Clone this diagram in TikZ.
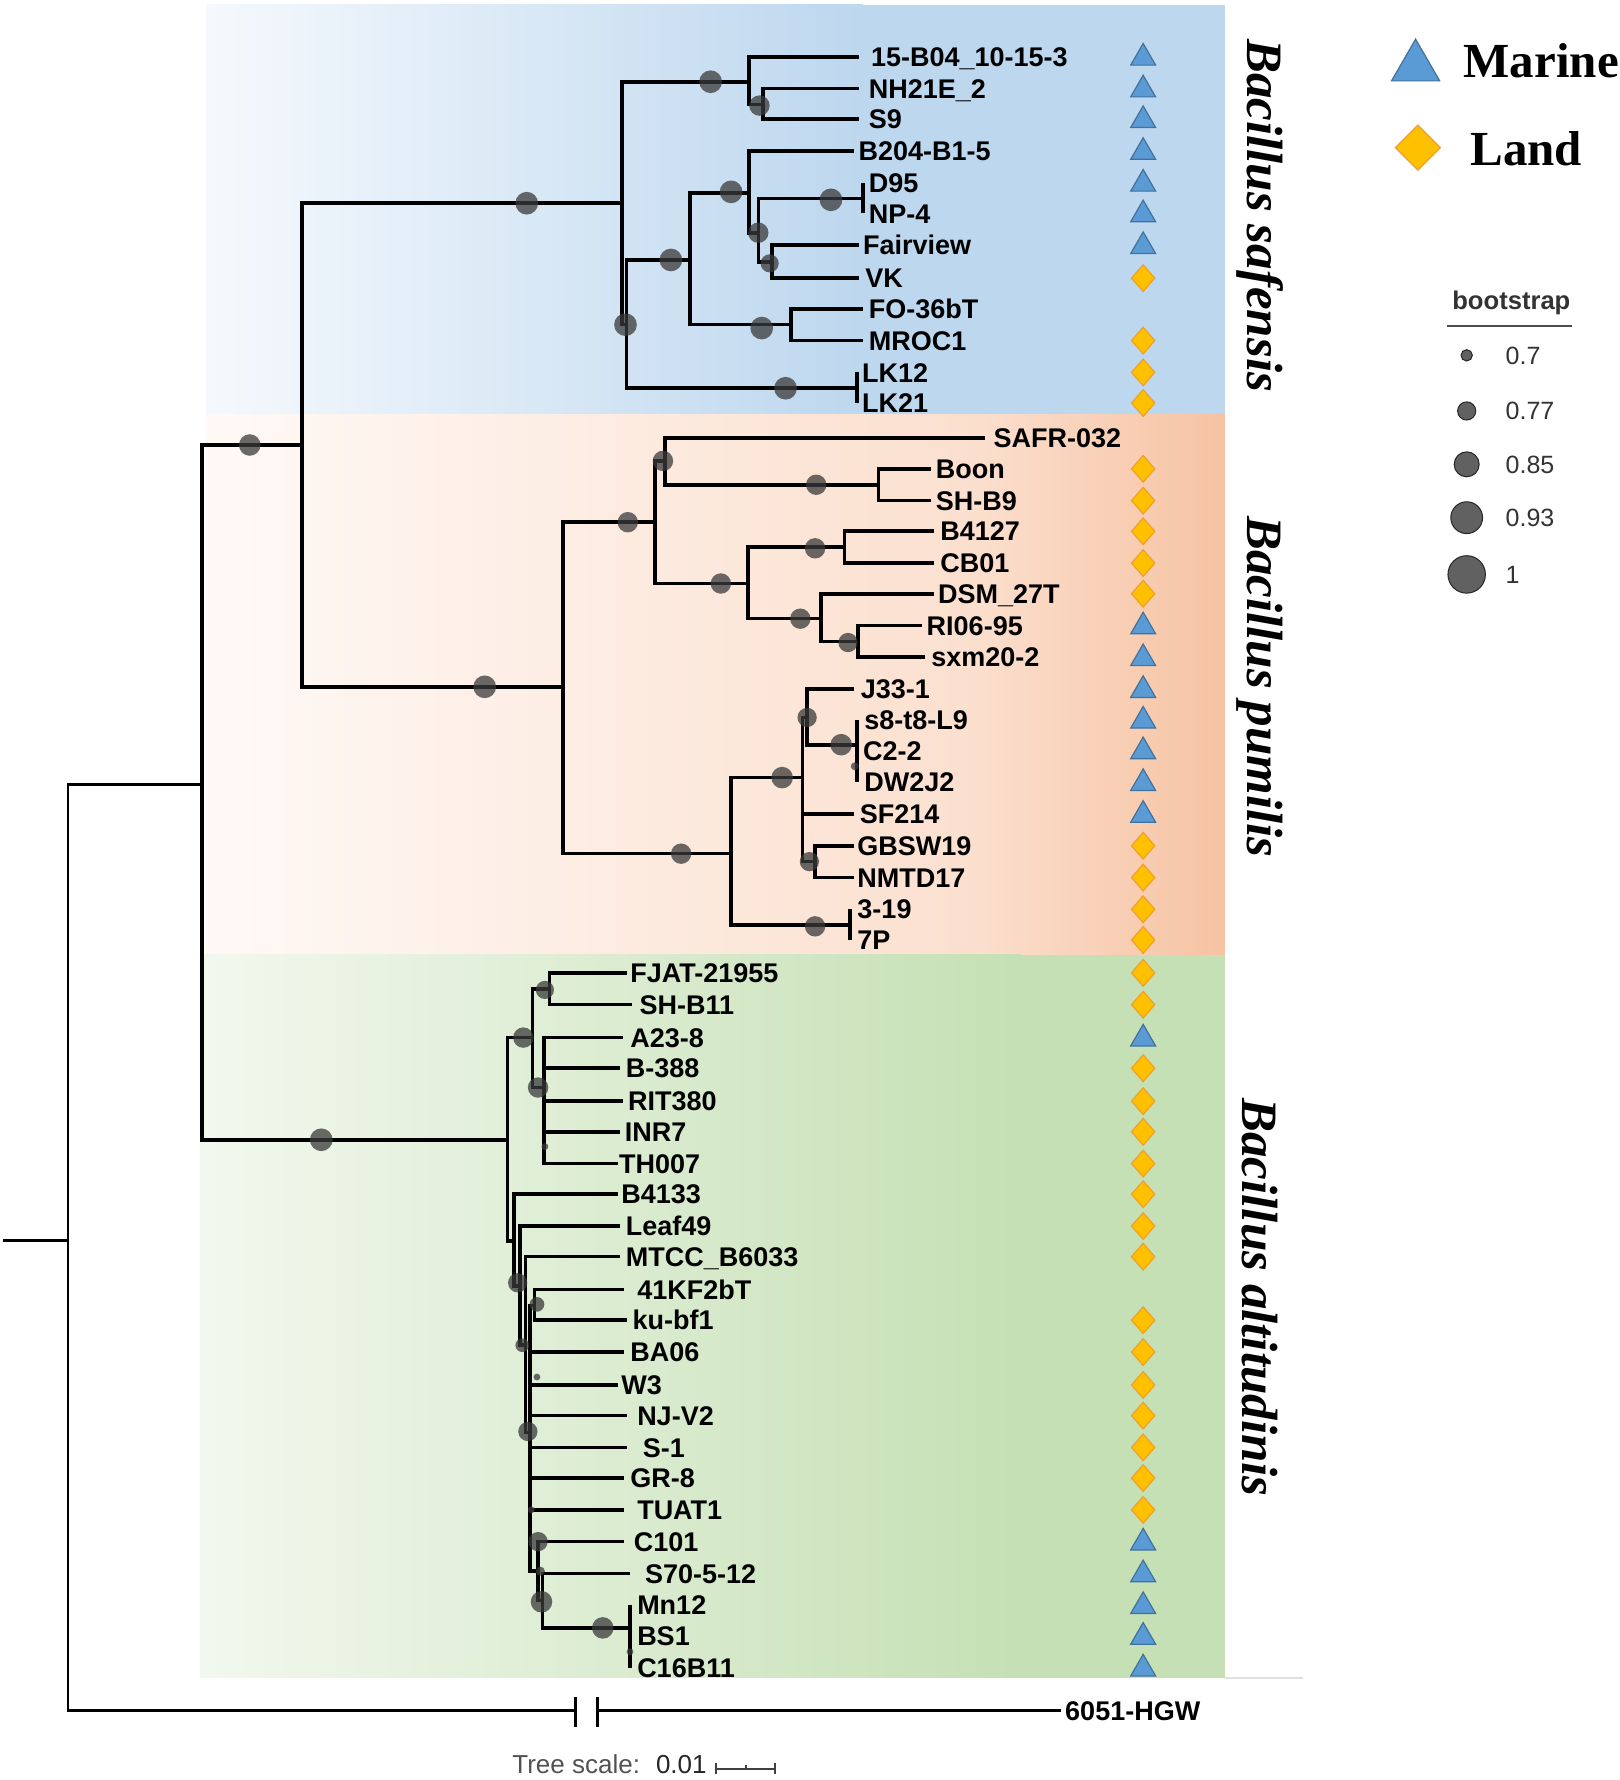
\documentclass[tikz,border=0pt]{standalone}
\usepackage{fontspec}
\setmainfont{Liberation Sans}
\newfontfamily\clfont{Liberation Serif}
\usetikzlibrary{shapes.geometric}
\definecolor{mblue}{HTML}{5B9BD5}
\definecolor{mbluedk}{HTML}{41719C}
\definecolor{lyel}{HTML}{FFC000}
\definecolor{lyeldk}{HTML}{EFA02A}
\definecolor{pblue}{HTML}{BDD7EE}
\definecolor{pbluel}{HTML}{F5F9FD}
\definecolor{porl}{HTML}{FFF9F6}
\definecolor{porm}{HTML}{FBE0CF}
\definecolor{porr}{HTML}{F6C3A3}
\definecolor{pgrl}{HTML}{F2F8EE}
\definecolor{pgrr}{HTML}{C5E0B4}
\definecolor{dotc}{HTML}{3A3A3A}
\newcommand{\tleaf}[6]{%
  \coordinate (#1) at (#3,#4);
  \draw[br] (#2) |- (#1);
  \node[lbl] (#1-t) at (#5,#4) {#6};}
\begin{document}
\begin{tikzpicture}[x=0.5676pt, y=-0.5676pt,
  br/.style={line width=1.8pt},
  thinbr/.style={line width=1.3pt},
  lbl/.style={anchor=west, inner sep=0pt, text height=9.67pt, text depth=0pt, font=\fontsize{13.5}{15}\selectfont\bfseries},
  bs/.style={circle, inner sep=0pt, minimum size={#1*0.5676pt}, fill=dotc, fill opacity=0.75, draw=none},
  legc/.style={circle, inner sep=0pt, minimum size={#1*0.5676pt}, fill=black!62, draw=black!85, line width=0.5pt},
  marine/.style={regular polygon, regular polygon sides=3, inner sep=0pt, minimum size=14.4pt, fill=mblue, draw=mbluedk, line width=0.6pt},
  land/.style={diamond, inner sep=0pt, minimum width=11.9pt, minimum height=13.6pt, fill=lyel, draw=lyeldk, line width=0.6pt},
  clade/.style={inner sep=0pt, rotate=-90, font=\clfont\fontsize{25.5}{28}\selectfont\bfseries\itshape}]
\useasboundingbox (0,0) rectangle (1427,1568);
\fill[white] (0,0) rectangle (1427,1568);
% panels
\shade[left color=pbluel, right color=pblue] (182,4) rectangle (760,365);
\fill[pblue] (759,4) rectangle (1079,365);
\shade[left color=porl, right color=porm] (182,365) rectangle (850,841);
\shade[left color=porm, right color=porr] (849,365) rectangle (1079,841);
\shade[left color=pgrl, right color=pgrr] (176,841) rectangle (900,1478);
\fill[pgrr] (899,841) rectangle (1079,1478);
\draw[black!12, line width=0.8pt] (1079,1478) -- (1148,1478);
% internal coordinates
\coordinate (rootL) at (3,1093);
\coordinate (r0) at (60,1093);
\coordinate (nA) at (178,691);
\coordinate (nB) at (266,392);
\coordinate (nC) at (447,1004);
\coordinate (nSaf) at (548,179);
\coordinate (s1) at (660,72);
\coordinate (s1b) at (672,92);
\coordinate (s2) at (552,286);
\coordinate (s3) at (608,229);
\coordinate (s5) at (660,170);
\coordinate (s7) at (668,205);
\coordinate (s8) at (760,175);
\coordinate (s9) at (680,231);
\coordinate (s6) at (697,286);
\coordinate (s4) at (755,342);
\coordinate (nPum) at (496,605);
\coordinate (p1) at (577,460);
\coordinate (p3) at (586,406);
\coordinate (p5) at (774,427);
\coordinate (p4) at (659,514);
\coordinate (p6) at (744,482);
\coordinate (p7) at (723,545);
\coordinate (p8) at (756,565);
\coordinate (p2) at (644,752);
\coordinate (p9) at (707,685);
\coordinate (p11) at (711,632);
\coordinate (p12) at (755,656);
\coordinate (p12b) at (755,675);
\coordinate (p13) at (718,759);
\coordinate (p10) at (749,815);
\coordinate (a1) at (469,914);
\coordinate (a3) at (484,871);
\coordinate (a4) at (479,958);
\coordinate (a2) at (453,1093);
\coordinate (a5) at (458,1133);
\coordinate (a6) at (463,1185);
\coordinate (a7) at (467,1262);
\coordinate (a8) at (471,1150);
\coordinate (a9) at (474,1384);
\coordinate (a10) at (478,1410);
\coordinate (a11) at (555,1434);
\coordinate (a12) at (555,1455);
\coordinate (brk1) at (507,1507);
\coordinate (brk2) at (526,1507);
\coordinate (og) at (935,1507);
% root and outgroup
\draw[thinbr] (rootL) -- (r0);
\draw[thinbr] (r0) |- (nA);
\draw[thinbr] (r0) |- (brk1);
\draw[thinbr] (brk2) -- (og);
\draw[line width=1.5pt] (brk1) ++(0,-12) -- ++(0,26);
\draw[line width=1.5pt] (brk2) ++(0,-12) -- ++(0,26);
\node[lbl] (og-t) at (938,1507) {6051-HGW};
% internal edges
\draw[br] (nA) |- (nB);  \draw[br] (nA) |- (nC);
\draw[br] (nB) |- (nSaf); \draw[br] (nB) |- (nPum);
\draw[br] (nSaf) |- (s1); \draw[br] (nSaf) |- (s2);
\draw[br] (s1) |- (s1b);
\draw[br] (s2) |- (s3); \draw[br] (s2) |- (s4);
\draw[br] (s3) |- (s5); \draw[br] (s3) |- (s6);
\draw[br] (s5) |- (s7);
\draw[br] (s7) |- (s8); \draw[br] (s7) |- (s9);
\draw[br] (nPum) |- (p1); \draw[br] (nPum) |- (p2);
\draw[br] (p1) |- (p3); \draw[br] (p1) |- (p4);
\draw[br] (p3) |- (p5);
\draw[br] (p4) |- (p6); \draw[br] (p4) |- (p7);
\draw[br] (p7) |- (p8);
\draw[br] (p2) |- (p9); \draw[br] (p2) |- (p10);
\draw[br] (p9) |- (p11); \draw[br] (p9) |- (p13);
\draw[br] (p11) |- (p12);
\draw[br] (p12) |- (p12b);
\draw[br] (nC) |- (a1); \draw[br] (nC) |- (a2);
\draw[br] (a1) |- (a3); \draw[br] (a1) |- (a4);
\draw[br] (a2) |- (a5); \draw[br] (a5) |- (a6); \draw[br] (a6) |- (a7);
\draw[br] (a7) |- (a8); \draw[br] (a7) |- (a9);
\draw[br] (a9) |- (a10); \draw[br] (a10) |- (a11); \draw[br] (a11) |- (a12);
% leaves: safensis
\tleaf{L1}{s1}{757}{50}{767}{15-B04\_10-15-3}
\tleaf{L2}{s1b}{757}{78}{765}{NH21E\_2}
\tleaf{L3}{s1b}{757}{105}{765}{S9}
\tleaf{L4}{s5}{752}{133}{756}{B204-B1-5}
\tleaf{L5}{s8}{760}{161}{765}{D95}
\tleaf{L6}{s8}{760}{188}{765}{NP-4}
\tleaf{L7}{s9}{757}{216}{760}{Fairview}
\tleaf{L8}{s9}{757}{245}{762}{VK}
\tleaf{L9}{s6}{760}{272}{765}{FO-36bT}
\tleaf{L10}{s6}{760}{300}{765}{MROC1}
\tleaf{L11}{s4}{755}{328}{759}{LK12}
\tleaf{L12}{s4}{755}{355}{759}{LK21}
% pumilis
\tleaf{L13}{p3}{868}{386}{875}{SAFR-032}
\tleaf{L14}{p5}{820}{413}{824}{Boon}
\tleaf{L15}{p5}{820}{441}{824}{SH-B9}
\tleaf{L16}{p6}{823}{468}{828}{B4127}
\tleaf{L17}{p6}{823}{496}{828}{CB01}
\tleaf{L18}{p7}{823}{523}{826}{DSM\_27T}
\tleaf{L19}{p8}{812}{551}{816}{RI06-95}
\tleaf{L20}{p8}{815}{579}{820}{sxm20-2}
\tleaf{L21}{p11}{752}{607}{758}{J33-1}
\tleaf{L22}{p12}{755}{634}{761}{s8-t8-L9}
\tleaf{L23}{p12b}{755}{661}{760}{C2-2}
\tleaf{L24}{p12b}{755}{689}{761}{DW2J2}
\tleaf{L25}{p9}{752}{717}{757}{SF214}
\tleaf{L26}{p13}{752}{745}{755}{GBSW19}
\tleaf{L27}{p13}{752}{773}{755}{NMTD17}
\tleaf{L28}{p10}{749}{801}{755}{3-19}
\tleaf{L29}{p10}{749}{828}{755}{7P}
% altitudinis
\tleaf{L30}{a3}{552}{857}{555}{FJAT-21955}
\tleaf{L31}{a3}{557}{885}{563}{SH-B11}
\tleaf{L32}{a4}{549}{914}{555}{A23-8}
\tleaf{L33}{a4}{546}{941}{551}{B-388}
\tleaf{L34}{a4}{549}{970}{553}{RIT380}
\tleaf{L35}{a4}{546}{997}{550}{INR7}
\tleaf{L36}{a4}{544}{1025}{545}{TH007}
\tleaf{L37}{a2}{544}{1052}{547}{B4133}
\tleaf{L38}{a5}{546}{1080}{551}{Leaf49}
\tleaf{L39}{a6}{546}{1107}{551}{MTCC\_B6033}
\tleaf{L40}{a8}{550}{1136}{561}{41KF2bT}
\tleaf{L41}{a8}{552}{1163}{557}{ku-bf1}
\tleaf{L42}{a7}{550}{1191}{555}{BA06}
\tleaf{L43}{a7}{544}{1220}{547}{W3}
\tleaf{L44}{a7}{552}{1247}{561}{NJ-V2}
\tleaf{L45}{a7}{552}{1275}{566}{S-1}
\tleaf{L46}{a7}{550}{1302}{555}{GR-8}
\tleaf{L47}{a7}{550}{1330}{561}{TUAT1}
\tleaf{L48}{a9}{550}{1358}{558}{C101}
\tleaf{L49}{a10}{555}{1386}{568}{S70-5-12}
\tleaf{L50}{a11}{555}{1414}{561}{Mn12}
\tleaf{L51}{a12}{555}{1441}{561}{BS1}
\tleaf{L52}{a12}{555}{1469}{561}{C16B11}
% bootstrap dots
\foreach \x/\y/\d [count=\i] in {220/392/19, 283/1004/20,
  464/179/20, 626/72/20, 669/93/18, 551/286/20, 591/229/20, 644/169/20, 668/205/18, 732/176/20, 678/232/16, 671/289/20, 692/342/20,
  427/605/20, 553/460/18, 584/406/18, 719/427/18, 635/514/18, 718/483/18, 705/545/18, 747/566/17, 600/752/18, 689/685/19, 711/632/17, 741/656/19, 753/675/7, 713/759/17, 718/816/18,
  461/914/18, 480/872/16, 474/958/18, 480/1010/6, 456/1130/17, 473/1149/13, 460/1185/12, 473/1213/6, 465/1261/17, 468/1330/6, 474/1358/17, 476/1384/8, 477/1411/19, 531/1434/19, 555/1455/6}
  \node[bs=\d] (bs\i) at (\x,\y) {};
% habitat symbols
\foreach \y [count=\i] in {50,78,105,133,161,188,216,551,579,607,634,661,689,717,914,1358,1386,1414,1441,1469}
  \node[marine] (mar\i) at (1007,\y+1) {};
\foreach \y [count=\i] in {245,300,328,355,413,441,468,496,523,745,773,801,828,857,885,941,970,997,1025,1052,1080,1107,1163,1191,1220,1247,1275,1302,1330}
  \node[land] (lnd\i) at (1007,\y) {};
% clade labels
\node[clade] (cl1) at (1110,190) {Bacillus safensis};
\node[clade] (cl2) at (1110,605) {Bacillus pumilis};
\node[clade] (cl3) at (1110,1143) {Bacillus altitudinis};
% legend
\node[marine, minimum size=27.8pt] (legM) at (1247,59) {};
\node[land, minimum width=22.7pt, minimum height=22.7pt] (legL) at (1249,130) {};
\node[anchor=base west, inner sep=0pt, font=\clfont\fontsize{24.5}{28}\selectfont\bfseries] (legMt) at (1289,68) {Marine};
\node[anchor=base west, inner sep=0pt, font=\clfont\fontsize{24.5}{28}\selectfont\bfseries] (legLt) at (1295,146) {Land};
\node[anchor=base west, inner sep=0pt, font=\fontsize{12.8}{14}\selectfont\bfseries, text=black!80] (bst) at (1279,273) {bootstrap};
\coordinate (ul1) at (1275,287);
\coordinate (ul2) at (1385,287);
\draw[black!70, line width=0.9pt] (ul1) -- (ul2);
\foreach \y/\d/\lab [count=\i] in {313/10/0.7, 362/16/0.77, 409/22/0.85, 456/28/0.93, 506/33/1}{
  \node[legc=\d] (lc\i) at (1292,\y) {};
  \node[anchor=west, inner sep=0pt, text height=8.9pt, text depth=0pt, font=\fontsize{12.5}{14}\selectfont, text=black!80] (lt\i) at (1326,\y) {\lab};
}
% tree scale
\node[anchor=base west, inner sep=0pt, font=\fontsize{13}{15}\selectfont, text=black!68] (ts) at (451,1562) {Tree scale:\hspace{8pt}\textcolor{black!85}{0.01}};
\coordinate (sb1) at (631,1558);
\coordinate (sb2) at (683,1558);
\coordinate (sbm) at (657,1558);
\draw[black!75, line width=1pt] (sb1) -- (sb2);
\draw[black!75, line width=1pt] (sb1) ++(0,-5) -- ++(0,10);
\draw[black!75, line width=1pt] (sb2) ++(0,-5) -- ++(0,10);
\draw[black!75, line width=0.8pt] (sbm) -- ++(0,-3);
\end{tikzpicture}
\end{document}
